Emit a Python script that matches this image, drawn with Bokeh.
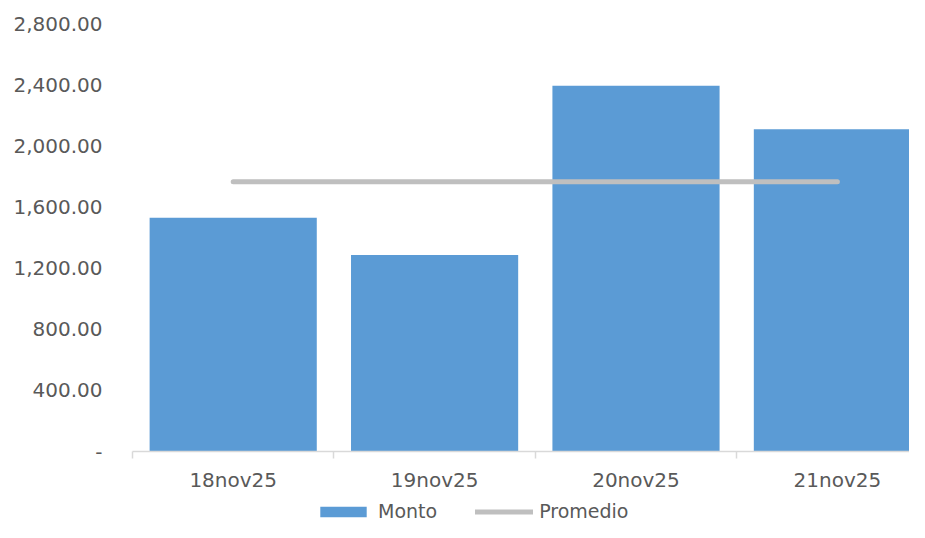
from bokeh.plotting import figure
from bokeh.layouts import column
from bokeh.models import (Range1d, FixedTicker, Legend, LegendItem, LinearAxis,
                          ColumnDataSource)
from bokeh.embed import file_html
from bokeh.resources import INLINE

categories = ["18nov25", "19nov25", "20nov25", "21nov25"]
monto = [1530, 1285, 2392, 2108]
promedio = [1765, 1765, 1765, 1765]
y_ticks = [0, 400, 800, 1200, 1600, 2000, 2400, 2800]
y_labels = ["-", "400.00", "800.00", "1,200.00", "1,600.00", "2,000.00", "2,400.00", "2,800.00"]

FONT = "DejaVu Sans"
TXT = "#595959"
GRID = "#D9D9D9"
BAR = "#5B9BD5"
AVG = "#BFBFBF"

xs = [i + 0.5 for i in range(len(categories))]
src = ColumnDataSource(dict(x=xs, monto=monto, promedio=promedio, cat=categories))

p = figure(width=909, height=495, output_backend="svg", toolbar_location=None,
           x_range=Range1d(0, 3.858), y_range=Range1d(0, 2800),
           min_border_left=132, min_border_right=0, min_border_top=23,
           min_border_bottom=44, x_axis_type=None, y_axis_type=None)
p.outline_line_color = None
p.background_fill_color = "white"
p.border_fill_color = "white"

bars = p.vbar(x="x", top="monto", width=0.83, source=src,
              fill_color=BAR, line_color=None)
line = p.line(x="x", y="promedio", source=src, line_color=AVG,
              line_width=5, line_cap="round")

# y axis
yaxis = LinearAxis(ticker=FixedTicker(ticks=y_ticks))
yaxis.major_label_overrides = {t: l for t, l in zip(y_ticks, y_labels)}
yaxis.axis_line_color = None
yaxis.major_tick_line_color = None
yaxis.minor_tick_line_color = None
yaxis.major_tick_out = 0
yaxis.major_tick_in = 0
yaxis.major_label_standoff = 30
yaxis.major_label_text_font = FONT
yaxis.major_label_text_font_size = "20px"
yaxis.major_label_text_color = TXT
p.add_layout(yaxis, "left")

# x axis
boundaries = list(range(len(categories) + 1))
xaxis = LinearAxis(ticker=FixedTicker(ticks=xs, minor_ticks=boundaries))
xaxis.major_label_overrides = {x: c for x, c in zip(xs, categories)}
xaxis.axis_line_color = GRID
xaxis.axis_line_width = 1.5
xaxis.major_tick_line_color = None
xaxis.major_tick_out = 0
xaxis.major_tick_in = 0
xaxis.minor_tick_line_color = GRID
xaxis.minor_tick_line_width = 1.5
xaxis.minor_tick_out = 7
xaxis.minor_tick_in = 0
xaxis.major_label_standoff = 9
xaxis.major_label_text_font = FONT
xaxis.major_label_text_font_size = "20px"
xaxis.major_label_text_color = TXT
p.add_layout(xaxis, "below")

p.ygrid.ticker = FixedTicker(ticks=y_ticks)
p.ygrid.grid_line_color = GRID
p.ygrid.grid_line_width = 1
p.xgrid.grid_line_color = None

# legend strip (its glyph renderers lie outside its visible range)
lg = figure(width=909, height=27, output_backend="svg", toolbar_location=None,
            x_range=Range1d(0, 3.858), y_range=Range1d(5000, 6000),
            min_border_left=132, min_border_right=0, min_border_top=0,
            min_border_bottom=0, x_axis_type=None, y_axis_type=None)
lg.outline_line_color = None
lg.xgrid.visible = False
lg.ygrid.visible = False
lbar = lg.vbar(x="x", top="monto", width=0.83, source=src,
               fill_color=BAR, line_color=None)
lline = lg.line(x="x", y="promedio", source=src, line_color=AVG,
                line_width=5, line_cap="round")

legend = Legend(items=[LegendItem(label="Monto", renderers=[lbar]),
                       LegendItem(label="Promedio", renderers=[lline])],
                orientation="horizontal", location=(182, 0),
                glyph_width=58, glyph_height=13, label_standoff=6,
                spacing=38, padding=0, margin=0,
                border_line_color=None, background_fill_alpha=0,
                label_text_font=FONT, label_text_font_size="19px",
                label_text_color=TXT)
lg.add_layout(legend, "center")

layout = column(p, lg, spacing=0)
open("out.html", "w").write(file_html(layout, INLINE))
